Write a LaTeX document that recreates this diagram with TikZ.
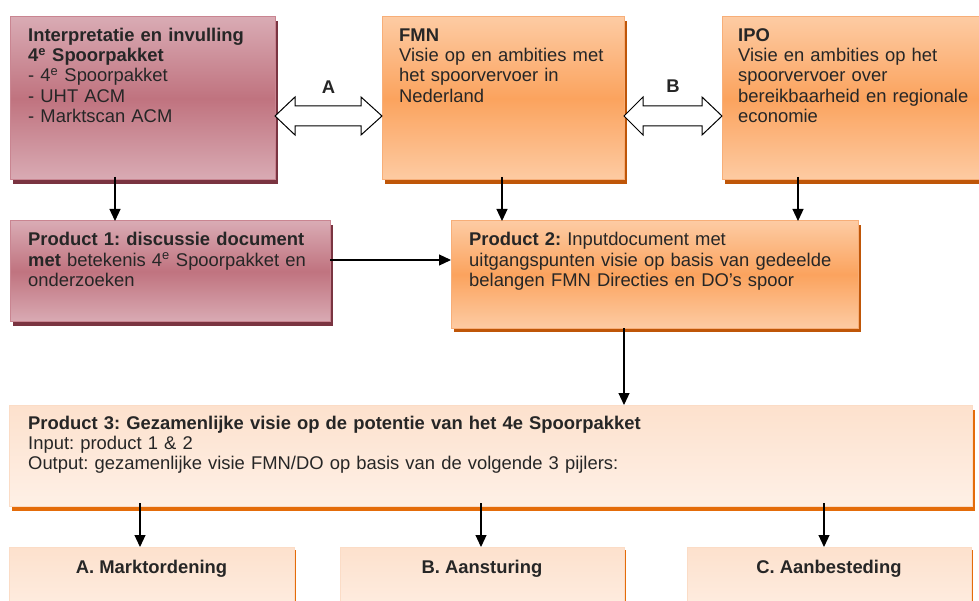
\documentclass[tikz,border=0pt]{standalone}
\usepackage{fontspec}
\setmainfont{Liberation Sans}
\usetikzlibrary{arrows.meta,calc,shadows}
\definecolor{txtc}{HTML}{262626}
\definecolor{pinkTop}{HTML}{D9ABB4}
\definecolor{pinkMid}{HTML}{C0737F}
\definecolor{pinkBorder}{HTML}{C98591}
\definecolor{pinkShadow}{HTML}{7A3441}
\definecolor{orTop}{HTML}{FDCBA3}
\definecolor{orMid}{HTML}{FBA35E}
\definecolor{orBorder}{HTML}{F7AE78}
\definecolor{orShadow}{HTML}{BF5608}
\definecolor{peTop}{HTML}{FDE1CD}
\definecolor{peBot}{HTML}{FEF0E6}
\definecolor{peBorder}{HTML}{FBDCC6}
\definecolor{peShadow}{HTML}{E46C0A}
\begin{document}
\frenchspacing
\begin{tikzpicture}[x=1pt,y=-1pt,
  boxbase/.style={draw, line width=1pt, outer sep=0pt, inner sep=0pt, anchor=north west},
  pinkbox/.style={boxbase, draw=pinkBorder, top color=pinkTop, bottom color=pinkTop, middle color=pinkMid,
     drop shadow={shadow xshift=3pt, shadow yshift=-4pt, opacity=1, fill=pinkShadow}},
  orbox/.style={boxbase, draw=orBorder, top color=orTop, bottom color=orTop, middle color=orMid,
     drop shadow={shadow xshift=3pt, shadow yshift=-4pt, opacity=1, fill=orShadow}},
  pebox/.style={boxbase, draw=peBorder, top color=peTop, bottom color=peBot,
     drop shadow={shadow xshift=3pt, shadow yshift=-5pt, opacity=1, fill=peShadow}},
  pesmall/.style={boxbase, draw=peBorder, top color=peTop, bottom color=peBot,
     drop shadow={shadow xshift=2pt, shadow yshift=-3pt, opacity=1, fill=peShadow}},
  txt/.style={anchor=base west, text width=#1, align=left, inner sep=0pt,
     font=\fontsize{18.4}{20.2}\selectfont\frenchspacing, text=txtc},
  lbl/.style={anchor=base, inner sep=0pt, font=\fontsize{18.4}{20.2}\selectfont\bfseries, text=txtc},
  arr/.style={-{Triangle[length=12pt,width=11pt]}, line width=1.2pt, black},
  dbl/.style={draw=black, line width=1pt, fill=white, line join=miter}
]
\useasboundingbox (0,0) rectangle (979,601);
\clip (0,0) rectangle (979,601);

% top row
\node[pinkbox, minimum width=265, minimum height=163] (b1) at (10,17) {};
\node[orbox, minimum width=242, minimum height=163] (fmn) at (382,17) {};
\node[orbox, minimum width=265, minimum height=163] (ipo) at (722,17) {};

% second row
\node[pinkbox, minimum width=320, minimum height=101] (p1) at (10,221) {};
\node[orbox, minimum width=407, minimum height=107] (p2) at (451,221) {};

% product 3
\node[pebox, minimum width=963, minimum height=101] (p3) at (9,405) {};

% bottom boxes
\node[pesmall, minimum width=285, minimum height=80] (bA) at (9,547) {};
\node[pesmall, minimum width=284, minimum height=80] (bB) at (340,547) {};
\node[pesmall, minimum width=284, minimum height=80] (bC) at (687,547) {};

% texts
\node[txt=400] (t1) at ($(b1.north west)+(18,24.5)$) {\textbf{Interpretatie en invulling}\\
  \textbf{4\textsuperscript{e} Spoorpakket}\\
  - 4\textsuperscript{e} Spoorpakket\\
  - UHT ACM\\
  - Marktscan ACM};
\node[txt=400] (tf) at ($(fmn.north west)+(17,24.5)$) {\textbf{FMN}\\
  Visie op en ambities met\\
  het spoorvervoer in\\
  Nederland};
\node[txt=400] (ti) at ($(ipo.north west)+(16,24.5)$) {\textbf{IPO}\\
  Visie en ambities op het\\
  spoorvervoer over\\
  bereikbaarheid en regionale\\
  economie};
\node[txt=500] (tp1) at ($(p1.north west)+(18,25)$) {\textbf{Product 1: discussie document}\\
  \textbf{met} betekenis 4\textsuperscript{e} Spoorpakket en\\
  onderzoeken};
\node[txt=500] (tp2) at ($(p2.north west)+(18,25)$) {\textbf{Product 2:} Inputdocument met\\
  uitgangspunten visie op basis van gedeelde\\
  belangen FMN Directies en DO’s spoor};
\node[txt=900, font=\fontsize{18.4}{20.4}\selectfont\frenchspacing] (tp3) at ($(p3.north west)+(19,24)$) {\textbf{Product 3: Gezamenlijke visie op de potentie van het 4e Spoorpakket}\\
  Input: product 1 \& 2\\
  Output: gezamenlijke visie FMN/DO op basis van de volgende 3 pijlers:};
\node[lbl] (tA) at ($(bA.north)+(0,26)$) {A. Marktordening};
\node[lbl] (tB) at ($(bB.north)+(0,26)$) {B. Aansturing};
\node[lbl] (tC) at ($(bC.north)+(0,26)$) {C. Aanbesteding};

% double arrows
\coordinate (aL) at ($(b1.north east)+(0,99)$);
\coordinate (aR) at (aL -| fmn.west);
\coordinate (bL) at ($(fmn.north east)+(0,99)$);
\coordinate (bR) at (bL -| ipo.west);
\draw[dbl] (aL) -- ++(20,-19) -- ++(0,9) -- ($(aR)+(-21,-10)$) -- ++(0,-9) -- (aR)
  -- ++(-21,19) -- ++(0,-9) -- ($(aL)+(20,10)$) -- ++(0,9) -- cycle;
\draw[dbl] (bL) -- ++(19,-19) -- ++(0,9) -- ($(bR)+(-20,-10)$) -- ++(0,-9) -- (bR)
  -- ++(-20,19) -- ++(0,-9) -- ($(bL)+(19,10)$) -- ++(0,9) -- cycle;
\node[lbl] (lA) at ($(aL)!0.5!(aR)+(0,-22)$) {A};
\node[lbl] (lB) at ($(bL)!0.5!(bR)+(0,-23)$) {B};

% vertical / horizontal connectors
\coordinate (s1) at ($(b1.south west)+(105,-3)$);
\draw[arr] (s1) -- (s1 |- p1.north);
\coordinate (s2) at ($(fmn.south west)+(120,-3)$);
\draw[arr] (s2) -- (s2 |- p2.north);
\coordinate (s3) at ($(ipo.south west)+(76,-3)$);
\draw[arr] (s3) -- (s3 |- p2.north);
\coordinate (s4) at ($(p1.north east)+(0,39)$);
\draw[arr] (s4) -- (s4 -| p2.west);
\coordinate (s5) at ($(p2.south west)+(173,0)$);
\draw[arr] (s5) -- (s5 |- p3.north);
\coordinate (s6) at ($(p3.south west)+(131,-3)$);
\draw[arr] (s6) -- (s6 |- bA.north);
\coordinate (s7) at ($(p3.south west)+(472,-3)$);
\draw[arr] (s7) -- (s7 |- bB.north);
\coordinate (s8) at ($(p3.south west)+(815,-3)$);
\draw[arr] (s8) -- (s8 |- bC.north);
\end{tikzpicture}
\end{document}
